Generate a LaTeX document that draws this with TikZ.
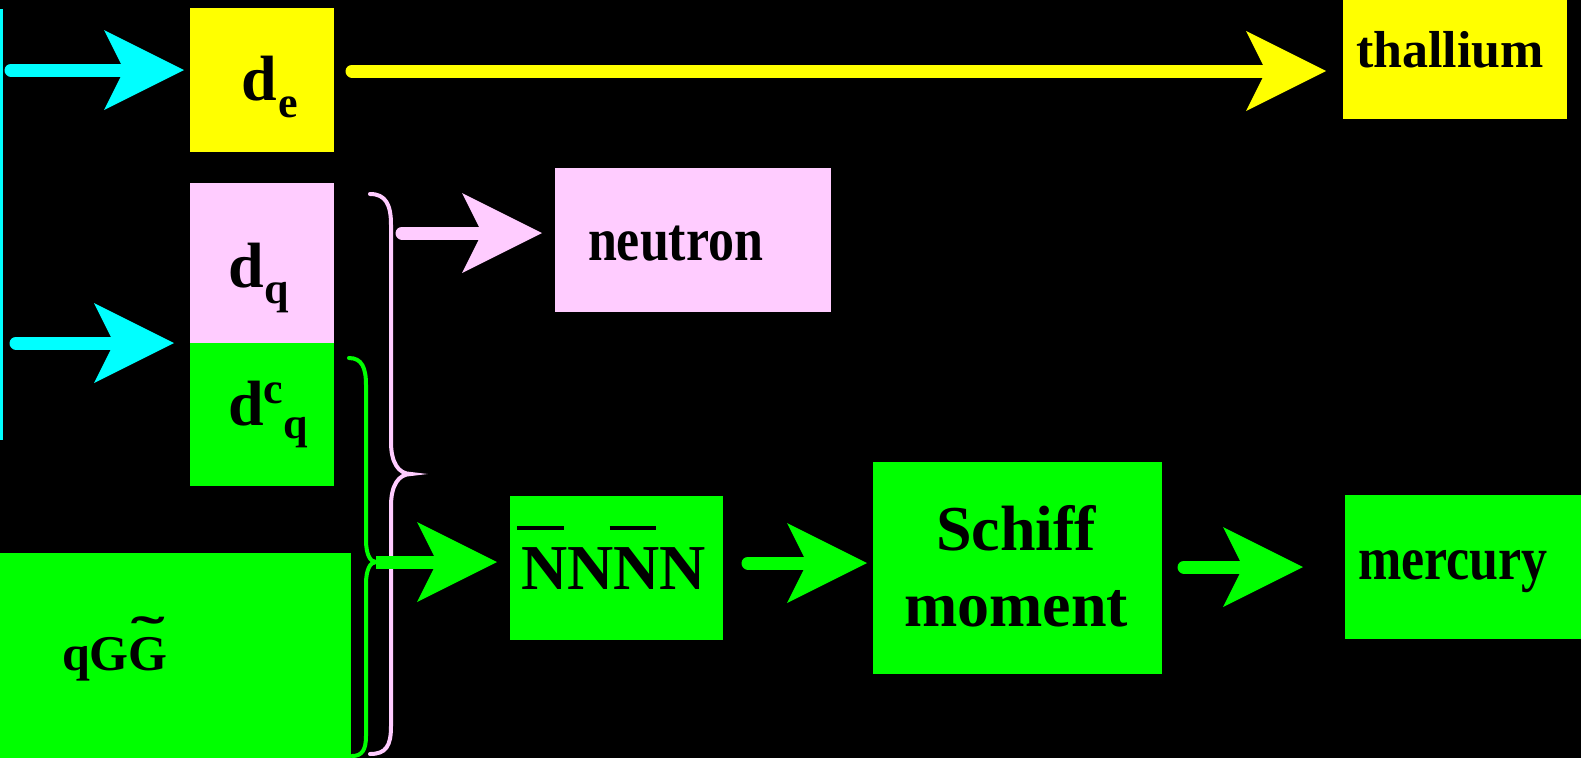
\documentclass[tikz,border=0pt]{standalone}
\usepackage{fontspec}
\setmainfont{Liberation Serif}
\usepackage{graphicx}
\usetikzlibrary{arrows.meta,calc}
\definecolor{cyanc}{HTML}{00FFFF}
\definecolor{yel}{HTML}{FFFF00}
\definecolor{pnk}{HTML}{FFCCFF}
\definecolor{grn}{HTML}{00FF00}
\newcommand\setfs[1]{\fontsize{#1pt}{#1pt}\selectfont}
\newcommand\barN{\rlap{\kern-0.06em\rule[0.92em]{0.73em}{0.0625em}}N}
\newcommand\tildeG{\ooalign{G\cr\hidewidth\raisebox{0.38em}{\scalebox{2}[1]{\char"02DC}}\hidewidth\cr}}
\begin{document}
\begin{tikzpicture}[x=1pt,y=-1pt,
  box/.style={draw=none,inner sep=0pt,outer sep=0pt,anchor=north west},
  lbl/.style={inner sep=0pt,outer sep=0pt,anchor=base west,font=\bfseries,text=black},
  fat/.style={line width=13pt,line cap=round,-{Stealth[length=80pt,width=80pt,inset=20pt,line width=0pt]}},
  brace/.style={line width=4pt,line cap=round}]
\fill[black] (0,0) rectangle (1581,758);
\useasboundingbox (0,0) rectangle (1581,758);
% source bar
\node[box,fill=cyanc,minimum width=3pt,minimum height=431pt] (src) at (0,9) {};
% boxes
\node[box,fill=yel,minimum width=144pt,minimum height=144pt] (de) at (190,8) {};
\node[box,fill=pnk,minimum width=144pt,minimum height=160pt] (dq) at (190,183) {};
\node[box,fill=grn,minimum width=144pt,minimum height=143pt] (dcq) at (190,343) {};
\node[box,fill=grn,minimum width=351pt,minimum height=205pt] (qgg) at (0,553) {};
\node[box,fill=yel,minimum width=224pt,minimum height=119pt] (thal) at (1343,0) {};
\node[box,fill=pnk,minimum width=276pt,minimum height=144pt] (neut) at (555,168) {};
\node[box,fill=grn,minimum width=213pt,minimum height=144pt] (nnnn) at (510,496) {};
\node[box,fill=grn,minimum width=289pt,minimum height=212pt] (schiff) at (873,462) {};
\node[box,fill=grn,minimum width=236pt,minimum height=144pt] (merc) at (1345,495) {};
% labels
\node[lbl] (tde) at (241,100) {\setfs{64}d\kern2pt\raisebox{-17pt}{\setfs{44}e}};
\node[lbl] (tdq) at (228,287) {\setfs{64}d\kern1pt\raisebox{-16pt}{\setfs{44}q}};
\node[lbl] (tdcq) at (228,425) {\setfs{64}d\raisebox{22pt}{\setfs{44}c}\raisebox{-13pt}{\setfs{44}q}};
\node[lbl] (tqgg) at (62,670) {\setfs{50}qG\tildeG};
\node[lbl] (tthal) at (1356,67) {\setfs{52}thallium};
\node[lbl] (tneut) at (588,260) {\setfs{52}\scalebox{1}[1.18]{neutron}};
\node[lbl] (tmerc) at (1358,579) {\setfs{52}\scalebox{1}[1.18]{mercury}};
\node[lbl] (tnnnn) at (521,589) {\setfs{64}\barN N\barN N};
\node[lbl,anchor=base,align=center,font={\bfseries\fontsize{64pt}{76pt}\selectfont}] (tschiff) at (1016,626) {Schiff\\moment};
% braces
\draw[brace,pnk] (370,194) .. controls (386,194) and (391,205) .. (391,225) -- (391,442)
  .. controls (391,462) and (398,474) .. (411,474)
  .. controls (398,474) and (391,486) .. (391,506) -- (391,726)
  .. controls (391,746) and (386,754) .. (370,754);
\coordinate (gcusp) at (376,562);
\draw[brace,grn] (349,358) .. controls (362,358) and (366,368) .. (366,385) -- (366,540)
  .. controls (366,554) and (370,562) .. (gcusp)
  .. controls (370,562) and (366,570) .. (366,584) -- (366,736)
  .. controls (366,750) and (362,756) .. (352,756);
% connectors
\draw[fat,cyanc] ($(src.north east)+(8,61)$) -- ([xshift=-6pt,yshift=10pt]de.west);
\draw[fat,cyanc] ($(src.north east)+(13,334)$) -- ([xshift=-16pt]dq.south west);
\draw[fat,yel] ($(de.north east)+(18,63)$) -- ($(thal.south west)+(-17,-48)$);
\draw[fat,pnk] (402,233) -- ($(neut.west)+(-13,-7)$);
\draw[fat,grn,line cap=butt] (gcusp) -- ($(nnnn.west)+(-13,-6)$);
\draw[fat,grn] ($(nnnn.east)+(25,-5)$) -- ($(schiff.west)+(-6,-5)$);
\draw[fat,grn] ($(schiff.east)+(22,-1)$) -- ($(merc.west)+(-42,0)$);
\end{tikzpicture}
\end{document}
